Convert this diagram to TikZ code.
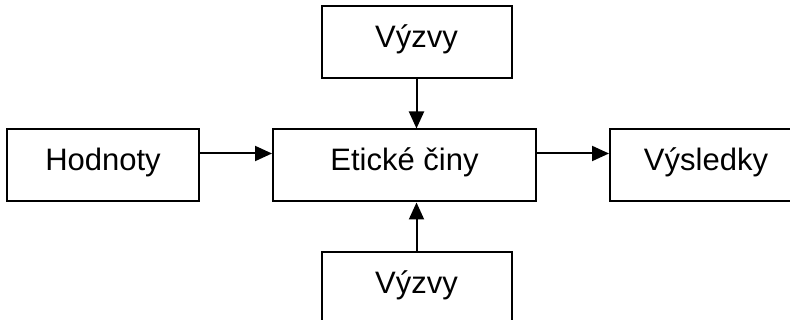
\documentclass[tikz,border=0pt]{standalone}
\usepackage{fontspec}
\setmainfont{Liberation Sans}
\usepackage{tikz}
\usetikzlibrary{arrows.meta,positioning}

\begin{document}
\begin{tikzpicture}[
    x=1pt, y=1pt,
    node distance=72pt,
    box/.style={rectangle, draw, line width=2pt, minimum width=192pt, minimum height=72pt,
        align=center, text height=22pt, text depth=12pt, font=\fontsize{31}{37}\selectfont},
    arrow/.style={-{Triangle[length=17pt,width=15pt]}, line width=2pt}
]
    \useasboundingbox (0,0) rectangle (790,320);
    \node[box, minimum width=263pt] (etika) at (404.5,154.5) {Etické činy};
    \node[box, left=of etika] (hodnoty) {Hodnoty};
    \node[box, right=of etika] (vysledky) {Výsledky};
    \node[box, minimum width=190pt, above=49pt of etika, xshift=12pt] (vyzvyA) {Výzvy};
    \node[box, minimum width=190pt, below=49pt of etika, xshift=12pt] (vyzvyB) {Výzvy};

    \draw[arrow] ([yshift=12pt]hodnoty.east) -- ([yshift=12pt]etika.west);
    \draw[arrow] ([yshift=12pt]etika.east) -- ([yshift=12pt]vysledky.west);
    \draw[arrow] (vyzvyA) -- (vyzvyA |- etika.north);
    \draw[arrow] (vyzvyB) -- (vyzvyB |- etika.south);
\end{tikzpicture}
\end{document}
